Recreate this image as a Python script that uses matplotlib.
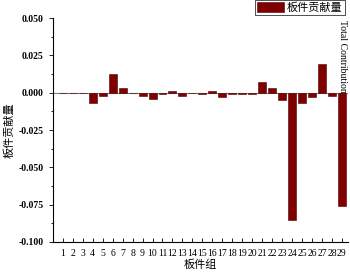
import numpy as np
import matplotlib
matplotlib.use("Agg")
import matplotlib.pyplot as plt
from matplotlib.ticker import MultipleLocator

plt.rcParams['font.family'] = ['Liberation Serif', 'Noto Sans CJK SC']

groups = list(range(1, 30))
contrib = [0.0, 0.0, -0.0003, -0.007, -0.0022, 0.0128, 0.003, -0.0003, -0.002, -0.0042,
           -0.001, 0.001, -0.002, -0.0003, -0.001, 0.001, -0.003, -0.001, -0.001, -0.001,
           0.0069, 0.003, -0.005, -0.085, -0.007, -0.003, 0.019, -0.002, -0.076]
yticks = [-0.100, -0.075, -0.050, -0.025, 0.000, 0.025, 0.050]

fig = plt.figure(figsize=(3.5, 2.74), dpi=100)
ax = fig.add_axes([0.151, 0.117, 0.843, 0.817])

ax.axhline(0, color='#808080', lw=0.8, zorder=1)
ax.bar(groups, contrib, width=0.8, color='#800000', edgecolor='#4a0000', lw=0.4,
       label='板件贡献量', zorder=2)

ax.set_xlim(0, 29.6)
ax.set_ylim(-0.1, 0.05)
ax.set_xticks(groups)
ax.set_xticklabels([str(g) for g in groups], fontsize=7)
ax.set_yticks(yticks)
ax.set_yticklabels(['%.3f' % v for v in yticks], fontsize=7, fontweight='bold')
ax.yaxis.set_minor_locator(MultipleLocator(0.0125))
ax.tick_params(axis='x', direction='in', length=3, width=0.6, pad=5)
ax.tick_params(axis='y', which='major', direction='out', length=3, width=0.6)
ax.tick_params(axis='y', which='minor', direction='out', length=1.5, width=0.6)

for s in ['top', 'right']:
    ax.spines[s].set_visible(False)
ax.spines['left'].set_linewidth(0.8)
ax.spines['bottom'].set_linewidth(0.8)

ax.set_xlabel('板件组', fontsize=8, family='Noto Sans CJK SC', labelpad=1)
ax.set_ylabel('板件贡献量', fontsize=8, family='Noto Sans CJK SC', labelpad=3)

ax.text(29.1, 0.049, 'Total Contribution', rotation=270, ha='center', va='top', fontsize=7)

leg = ax.legend(loc='upper right', bbox_to_anchor=(0.99, 1.08),
                prop={'family': 'Noto Sans CJK SC', 'size': 8},
                frameon=True, fancybox=False, borderpad=0.2, handlelength=2.4,
                handleheight=1.0, handletextpad=0.3, borderaxespad=0)
leg.get_frame().set_edgecolor('black')
leg.get_frame().set_linewidth(0.6)

fig.savefig('out.png', dpi=100)
